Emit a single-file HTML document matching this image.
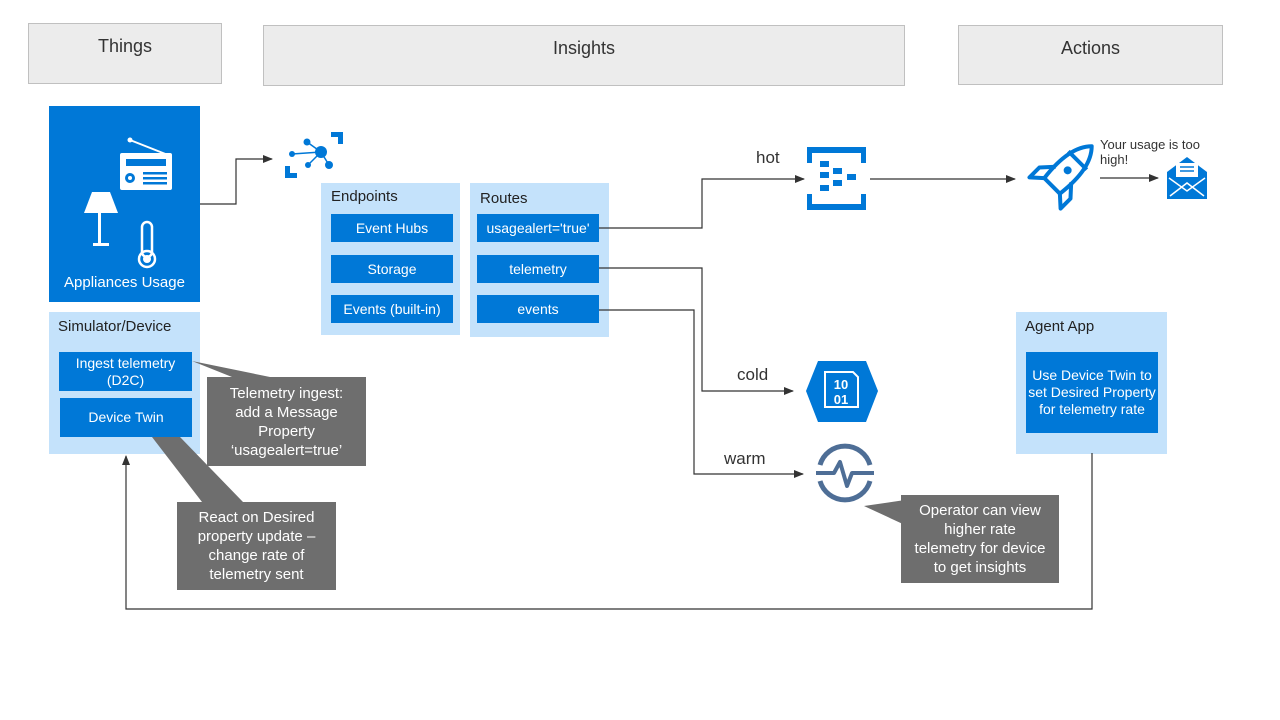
<!DOCTYPE html>
<html><head><meta charset="utf-8"><style>
body{margin:0;width:1280px;height:720px;background:#fff;position:relative;overflow:hidden;font-family:"Liberation Sans",sans-serif;}
.a{position:absolute;box-sizing:border-box;}
.hd{background:#ececec;border:1px solid #c0c0c0;text-align:center;font-size:18px;color:#333;}
.lb{background:#c4e2fb;}
.bt{background:#0078d7;color:#fff;font-size:14px;text-align:center;display:flex;align-items:center;justify-content:center;line-height:17px;}
.gc{background:#6e6e6e;color:#fff;font-size:15px;text-align:center;display:flex;align-items:center;justify-content:center;line-height:19px;}
.t{position:absolute;color:#333;}
</style></head><body>
<div class="a hd" style="left:28px;top:23px;width:194px;height:61px;padding-top:12px">Things</div>
<div class="a hd" style="left:263px;top:25px;width:642px;height:61px;padding-top:12px">Insights</div>
<div class="a hd" style="left:958px;top:25px;width:265px;height:60px;padding-top:12px">Actions</div>

<div class="a" style="left:49px;top:106px;width:151px;height:196px;background:#0078d7"></div>
<div class="t" style="left:49px;top:274px;width:151px;text-align:center;color:#fff;font-size:15px">Appliances Usage</div>

<div class="a lb" style="left:49px;top:312px;width:151px;height:142px"></div>
<div class="t" style="left:58px;top:318px;font-size:15px;color:#222">Simulator/Device</div>
<div class="a bt" style="left:59px;top:352px;width:133px;height:39px">Ingest telemetry<br>(D2C)</div>
<div class="a bt" style="left:60px;top:398px;width:132px;height:39px">Device Twin</div>

<div class="a lb" style="left:321px;top:183px;width:139px;height:152px"></div>
<div class="t" style="left:331px;top:188px;font-size:15px;color:#222">Endpoints</div>
<div class="a bt" style="left:331px;top:214px;width:122px;height:28px">Event Hubs</div>
<div class="a bt" style="left:331px;top:255px;width:122px;height:28px">Storage</div>
<div class="a bt" style="left:331px;top:295px;width:122px;height:28px">Events (built-in)</div>

<div class="a lb" style="left:470px;top:183px;width:139px;height:154px"></div>
<div class="t" style="left:480px;top:190px;font-size:15px;color:#222">Routes</div>
<div class="a bt" style="left:477px;top:214px;width:122px;height:28px">usagealert='true'</div>
<div class="a bt" style="left:477px;top:255px;width:122px;height:28px">telemetry</div>
<div class="a bt" style="left:477px;top:295px;width:122px;height:28px">events</div>

<div class="a lb" style="left:1016px;top:312px;width:151px;height:142px"></div>
<div class="t" style="left:1025px;top:318px;font-size:15px;color:#222">Agent App</div>
<div class="a bt" style="left:1026px;top:352px;width:132px;height:81px">Use Device Twin to set Desired Property for telemetry rate</div>

<div class="a gc" style="left:207px;top:377px;width:159px;height:89px">Telemetry ingest:<br>add a Message<br>Property<br>‘usagealert=true’</div>
<div class="a gc" style="left:177px;top:502px;width:159px;height:88px">React on Desired<br>property update –<br>change rate of<br>telemetry sent</div>
<div class="a gc" style="left:901px;top:495px;width:158px;height:88px">Operator can view<br>higher rate<br>telemetry for device<br>to get insights</div>

<div class="t" style="left:756px;top:148px;font-size:17px">hot</div>
<div class="t" style="left:737px;top:365px;font-size:17px">cold</div>
<div class="t" style="left:724px;top:449px;font-size:17px">warm</div>
<div class="t" style="left:1100px;top:137px;font-size:13px;line-height:15px">Your usage is too<br>high!</div>

<svg class="a" style="left:0;top:0" width="1280" height="720">
<defs><marker id="m" markerWidth="10" markerHeight="8" refX="9" refY="4" orient="auto" markerUnits="userSpaceOnUse"><path d="M0,0L10,4L0,8z" fill="#333"/></marker></defs>
<g fill="none" stroke="#333" stroke-width="1.2">
<path d="M200,204H236V159H272" marker-end="url(#m)"/>
<path d="M599,228H702V179H804" marker-end="url(#m)"/>
<path d="M870,179H1015" marker-end="url(#m)"/>
<path d="M1100,178H1158" marker-end="url(#m)"/>
<path d="M599,268H702V391H793" marker-end="url(#m)"/>
<path d="M599,310H694V474H803" marker-end="url(#m)"/>
<path d="M1092,453V609H126V456" marker-end="url(#m)"/>
</g>
<g fill="#6e6e6e">
<polygon points="192,361 232,377 270,377"/>
<polygon points="152,437 180,437 243,502 202,502"/>
<polygon points="864,506 905,500 905,525"/>
</g>
<!-- radio -->
<g fill="#fff"><rect x="120" y="153" width="52" height="37" rx="2"/><line x1="130" y1="140" x2="168" y2="155" stroke="#fff" stroke-width="2"/><circle cx="130" cy="140" r="2.5"/></g>
<g fill="#0078d7"><rect x="126" y="159" width="40" height="7"/><circle cx="130" cy="178" r="5"/><rect x="143" y="172" width="24" height="2.5"/><rect x="143" y="177" width="24" height="2.5"/><rect x="143" y="182" width="24" height="2.5"/></g>
<circle cx="130" cy="178" r="2" fill="#fff"/>
<!-- lamp -->
<g fill="#fff"><polygon points="92,192 110,192 118,213 84,213"/><rect x="98" y="213" width="3" height="30"/><rect x="93" y="243" width="16" height="3"/></g>
<!-- thermometer -->
<rect x="142" y="222" width="10" height="35" rx="5" fill="none" stroke="#fff" stroke-width="2.5"/>
<circle cx="147" cy="259" r="8" fill="none" stroke="#fff" stroke-width="2.5"/>
<circle cx="147" cy="259" r="4" fill="#fff"/>
<!-- iot hub -->
<g fill="#0078d7"><rect x="285" y="166" width="5" height="12"/><rect x="285" y="173" width="12" height="5"/><rect x="331" y="132" width="12" height="5"/><rect x="338" y="132" width="5" height="12"/>
<circle cx="321" cy="152" r="6"/><circle cx="307" cy="142" r="3.5"/><circle cx="292" cy="154" r="3"/><circle cx="308" cy="165" r="3"/><circle cx="329" cy="165" r="4"/></g>
<g stroke="#0078d7" stroke-width="1.5"><line x1="321" y1="152" x2="307" y2="142"/><line x1="321" y1="152" x2="292" y2="154"/><line x1="321" y1="152" x2="308" y2="165"/><line x1="321" y1="152" x2="329" y2="165"/></g>
<!-- event hub -->
<g fill="#0078d7"><path d="M807,147h59v16h-5v-10h-49v10h-5z"/><path d="M807,210h59v-16h-5v10h-49v-10h-5z"/>
<rect x="820" y="161" width="9" height="6"/><rect x="820" y="172" width="9" height="6"/><rect x="820" y="185" width="9" height="6"/><rect x="833" y="168" width="9" height="6"/><rect x="833" y="180" width="9" height="6"/><rect x="847" y="174" width="9" height="6"/></g>
<!-- rocket -->
<g transform="translate(1062,176) rotate(45)" fill="none" stroke="#0078d7" stroke-width="4" stroke-linejoin="round">
<path d="M0,-42C12,-30 14,-10 11,14L-11,14C-14,-10 -12,-30 0,-42Z"/>
<path d="M-11,-2L-22,10V24L-11,14"/><path d="M11,-2L22,10V24L11,14"/>
<path d="M-13,-22H13"/>
<circle cx="0" cy="-8" r="2" fill="#0078d7"/>
</g>
<!-- mail -->
<path d="M1167,172L1187,157L1207,172V199H1167Z" fill="#0078d7"/>
<rect x="1176" y="163" width="22" height="14" fill="#fff"/>
<g stroke="#0078d7" stroke-width="1.5"><line x1="1180" y1="167" x2="1194" y2="167"/><line x1="1180" y1="171" x2="1194" y2="171"/></g>
<path d="M1170,196L1187,183L1204,196M1169,178L1187,191L1205,178" fill="none" stroke="#fff" stroke-width="1.5"/>
<!-- storage hex -->
<polygon points="818,361 866,361 878,391 866,422 818,422 806,391" fill="#0078d7"/>
<path d="M825,372h28l5,5v30h-33z" fill="none" stroke="#fff" stroke-width="2"/>
<text x="841" y="389" fill="#fff" font-size="13" font-weight="bold" text-anchor="middle" font-family="Liberation Sans,sans-serif">10</text>
<text x="841" y="404" fill="#fff" font-size="13" font-weight="bold" text-anchor="middle" font-family="Liberation Sans,sans-serif">01</text>
<!-- monitor -->
<path d="M820,465A26,26 0 0 1 870,465M820,481A26,26 0 0 0 870,481" fill="none" stroke="#4e6e96" stroke-width="5"/>
<path d="M816,473H834L840,462L847,486L852,473H874" fill="none" stroke="#4e6e96" stroke-width="4" stroke-linejoin="round"/>
</svg>
</body></html>
